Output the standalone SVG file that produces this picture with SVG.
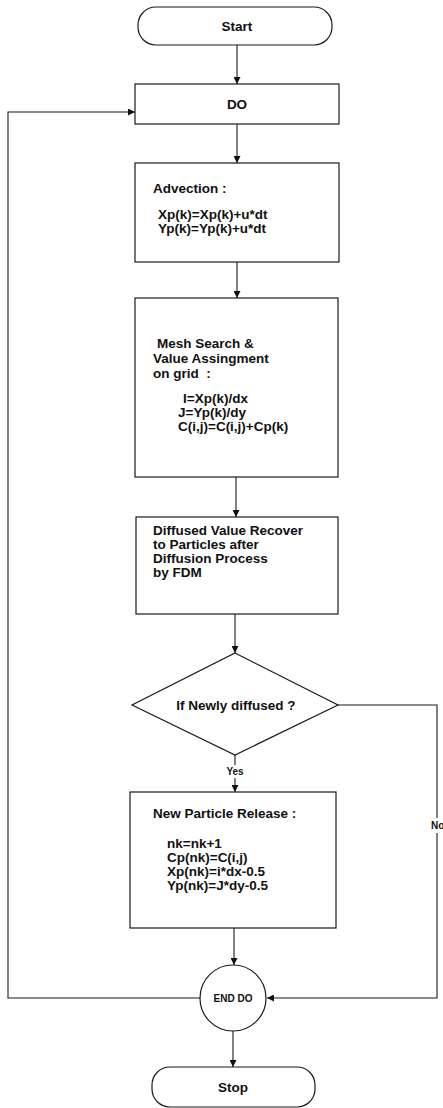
<svg xmlns="http://www.w3.org/2000/svg" width="443" height="1108" viewBox="0 0 443 1108">
<style>
.s{fill:#fff;stroke:#1a1a1a;stroke-width:1.2}
.t{font-family:"Liberation Sans",Arial,sans-serif;font-weight:bold;font-size:13.5px;fill:#111}
.c{text-anchor:middle}
.sm{font-size:10px}
.ln{fill:none;stroke:#1a1a1a;stroke-width:1.1}
</style>
<defs>
<marker id="ah" viewBox="0 0 10 10" refX="10" refY="5" markerWidth="7" markerHeight="7" markerUnits="userSpaceOnUse" orient="auto">
<path d="M0,0 L10,5 L0,10 z" fill="#111"/>
</marker>
</defs>
<rect width="443" height="1108" fill="#fff"/>
<g id="connectors">
<line class="ln" x1="237" y1="45" x2="237" y2="84" marker-end="url(#ah)"/>
<line class="ln" x1="237" y1="124" x2="237" y2="163" marker-end="url(#ah)"/>
<line class="ln" x1="237" y1="262" x2="237" y2="298" marker-end="url(#ah)"/>
<line class="ln" x1="236" y1="477" x2="236" y2="517" marker-end="url(#ah)"/>
<line class="ln" x1="235" y1="614" x2="235" y2="653" marker-end="url(#ah)"/>
<line class="ln" x1="235" y1="755" x2="235" y2="765"/>
<line class="ln" x1="235" y1="778" x2="235" y2="792" marker-end="url(#ah)"/>
<text class="t c sm" x="235" y="775">Yes</text>
<line class="ln" x1="234" y1="928" x2="234" y2="965" marker-end="url(#ah)"/>
<line class="ln" x1="233" y1="1031" x2="233" y2="1067" marker-end="url(#ah)"/>
<polyline class="ln" points="200,998 8,998 8,112 135,112" marker-end="url(#ah)"/>
<polyline class="ln" points="338,705 437,705 437,818"/>
<polyline class="ln" points="437,833 437,998 267,998" marker-end="url(#ah)"/>
<text class="t sm" x="431" y="829">No</text>
</g>
<g id="start">
<rect class="s" x="138" y="7" width="194" height="38" rx="18"/>
<text class="t c" x="237" y="31">Start</text>
</g>
<g id="do">
<rect class="s" x="135" y="84" width="204" height="40"/>
<text class="t c" x="237" y="109">DO</text>
</g>
<g id="advection">
<rect class="s" x="135" y="163" width="204" height="99"/>
<text class="t" x="153" y="193">Advection :</text>
<text class="t" x="158" y="219">Xp(k)=Xp(k)+u*dt</text>
<text class="t" x="158" y="233">Yp(k)=Yp(k)+u*dt</text>
</g>
<g id="mesh">
<rect class="s" x="135" y="298" width="203" height="179"/>
<text class="t" x="157" y="348">Mesh Search &amp;</text>
<text class="t" x="153" y="363">Value Assingment</text>
<text class="t" x="153" y="378" xml:space="preserve">on grid  :</text>
<text class="t" x="183" y="403">I=Xp(k)/dx</text>
<text class="t" x="178" y="417">J=Yp(k)/dy</text>
<text class="t" x="178" y="431">C(i,j)=C(i,j)+Cp(k)</text>
</g>
<g id="diffused">
<rect class="s" x="136" y="517" width="202" height="97"/>
<text class="t" x="153" y="535">Diffused Value Recover</text>
<text class="t" x="153" y="549">to Particles after</text>
<text class="t" x="153" y="563">Diffusion Process</text>
<text class="t" x="153" y="577">by FDM</text>
</g>
<g id="decision">
<polygon class="s" points="235,653 338,705 235,755 132,705"/>
<text class="t c" x="236" y="710">If Newly diffused ?</text>
</g>
<g id="release">
<rect class="s" x="130" y="792" width="206" height="136"/>
<text class="t" x="153" y="818">New Particle Release :</text>
<text class="t" x="167" y="848">nk=nk+1</text>
<text class="t" x="167" y="862">Cp(nk)=C(i,j)</text>
<text class="t" x="167" y="876">Xp(nk)=i*dx-0.5</text>
<text class="t" x="167" y="890">Yp(nk)=J*dy-0.5</text>
</g>
<g id="enddo">
<circle class="s" cx="233" cy="998" r="33"/>
<text class="t c sm" x="233" y="1002">END DO</text>
</g>
<g id="stop">
<rect class="s" x="152" y="1067" width="163" height="40" rx="18"/>
<text class="t c" x="233" y="1092">Stop</text>
</g>
</svg>
